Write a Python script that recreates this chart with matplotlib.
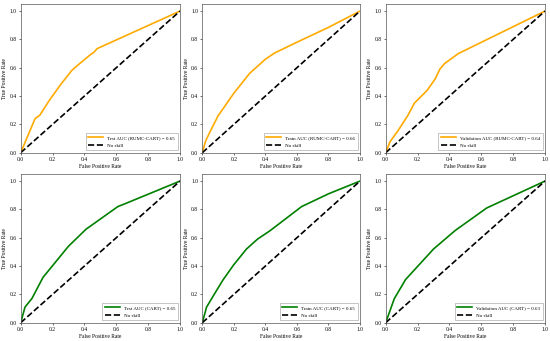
import numpy as np
import matplotlib
matplotlib.use("Agg")
import matplotlib.pyplot as plt

plt.rcParams['font.family'] = ['Liberation Serif', 'DejaVu Serif']

# ==============================================
#              ROC data
# ==============================================
fpr_test_rumc = [0.0, 0.09, 0.12, 0.18, 0.25, 0.32, 0.35, 0.435, 0.46, 0.48, 1.0]
tpr_test_rumc = [0.0, 0.24, 0.265, 0.37, 0.48, 0.58, 0.61, 0.69, 0.71, 0.735, 1.0]

fpr_train_rumc = [0.0, 0.02, 0.05, 0.1, 0.15, 0.2, 0.25, 0.3, 0.35, 0.4, 0.46, 0.6, 0.8, 1.0]
tpr_train_rumc = [0.0, 0.08, 0.15, 0.26, 0.34, 0.42, 0.49, 0.56, 0.61, 0.66, 0.705, 0.78, 0.885, 1.0]

fpr_val_rumc = [0.0, 0.027, 0.08, 0.14, 0.18, 0.26, 0.31, 0.34, 0.37, 0.456, 1.0]
tpr_val_rumc = [0.0, 0.077, 0.16, 0.265, 0.35, 0.44, 0.52, 0.59, 0.63, 0.70, 1.0]

fpr_test_cart = [0.0, 0.027, 0.07, 0.14, 0.30, 0.41, 0.61, 0.655, 1.0]
tpr_test_cart = [0.0, 0.11, 0.17, 0.32, 0.54, 0.66, 0.82, 0.84, 1.0]

fpr_train_cart = [0.0, 0.027, 0.07, 0.13, 0.2, 0.28, 0.35, 0.43, 0.53, 0.63, 0.8, 1.0]
tpr_train_cart = [0.0, 0.11, 0.19, 0.30, 0.41, 0.52, 0.59, 0.65, 0.735, 0.82, 0.91, 1.0]

fpr_val_cart = [0.0, 0.054, 0.125, 0.30, 0.435, 0.634, 1.0]
tpr_val_cart = [0.0, 0.17, 0.305, 0.52, 0.65, 0.81, 1.0]

labels = ["Test AUC (RUMC-CART) = 0.65", "Train AUC (RUMC-CART) = 0.66",
          "Validation AUC (RUMC-CART) = 0.64",
          "Test AUC (CART) = 0.65", "Train AUC (CART) = 0.65",
          "Validation AUC (CART) = 0.63"]
curves = [(fpr_test_rumc, tpr_test_rumc), (fpr_train_rumc, tpr_train_rumc),
          (fpr_val_rumc, tpr_val_rumc), (fpr_test_cart, tpr_test_cart),
          (fpr_train_cart, tpr_train_cart), (fpr_val_cart, tpr_val_cart)]
colors = ["#ffaa00", "#ffaa00", "#ffaa00", "green", "green", "green"]

# ==============================================
#              layout (pixel boxes)
# ==============================================
W, H = 550, 341
fig = plt.figure(figsize=(5.5, 3.41), dpi=100)
cols = [(20.7, 159.3), (202.3, 157.7), (385.7, 159.3)]
rows = [(4, 152.7), (174, 322.7)]

ticks = np.arange(0, 1.01, 0.2)
for i, ((fpr, tpr), lab, c) in enumerate(zip(curves, labels, colors)):
    left, width = cols[i % 3]
    top, bottom = rows[i // 3]
    ax = fig.add_axes([left / W, 1 - bottom / H, width / W, (bottom - top) / H])
    ax.plot(fpr, tpr, color=c, lw=1.2, label=lab)
    ax.plot([0, 1], [0, 1], 'k--', lw=1.2, label="No skill")
    ax.set_xlim(0, 1)
    ax.set_ylim(0, 1.05)
    ax.set_xticks(ticks)
    ax.set_yticks(ticks)
    ax.set_xticklabels([f"{t:.1f}" for t in ticks])
    ax.set_yticklabels([f"{t:.1f}" for t in ticks])
    ax.tick_params(labelsize=4, length=1.5, width=0.4, pad=1.5)
    ax.set_xlabel("False Positive Rate", fontsize=4, labelpad=1.5)
    ax.set_ylabel("True Positive Rate", fontsize=4, labelpad=1.5)
    for s in ax.spines.values():
        s.set_linewidth(0.5)
        s.set_color("#555555")
    leg = ax.legend(loc="lower right", fontsize=3.6, handlelength=3,
                    borderpad=0.5, labelspacing=0.6, fancybox=False,
                    framealpha=1, edgecolor="#999999")
    leg.get_frame().set_linewidth(0.4)

plt.savefig("out.png", dpi=100)
